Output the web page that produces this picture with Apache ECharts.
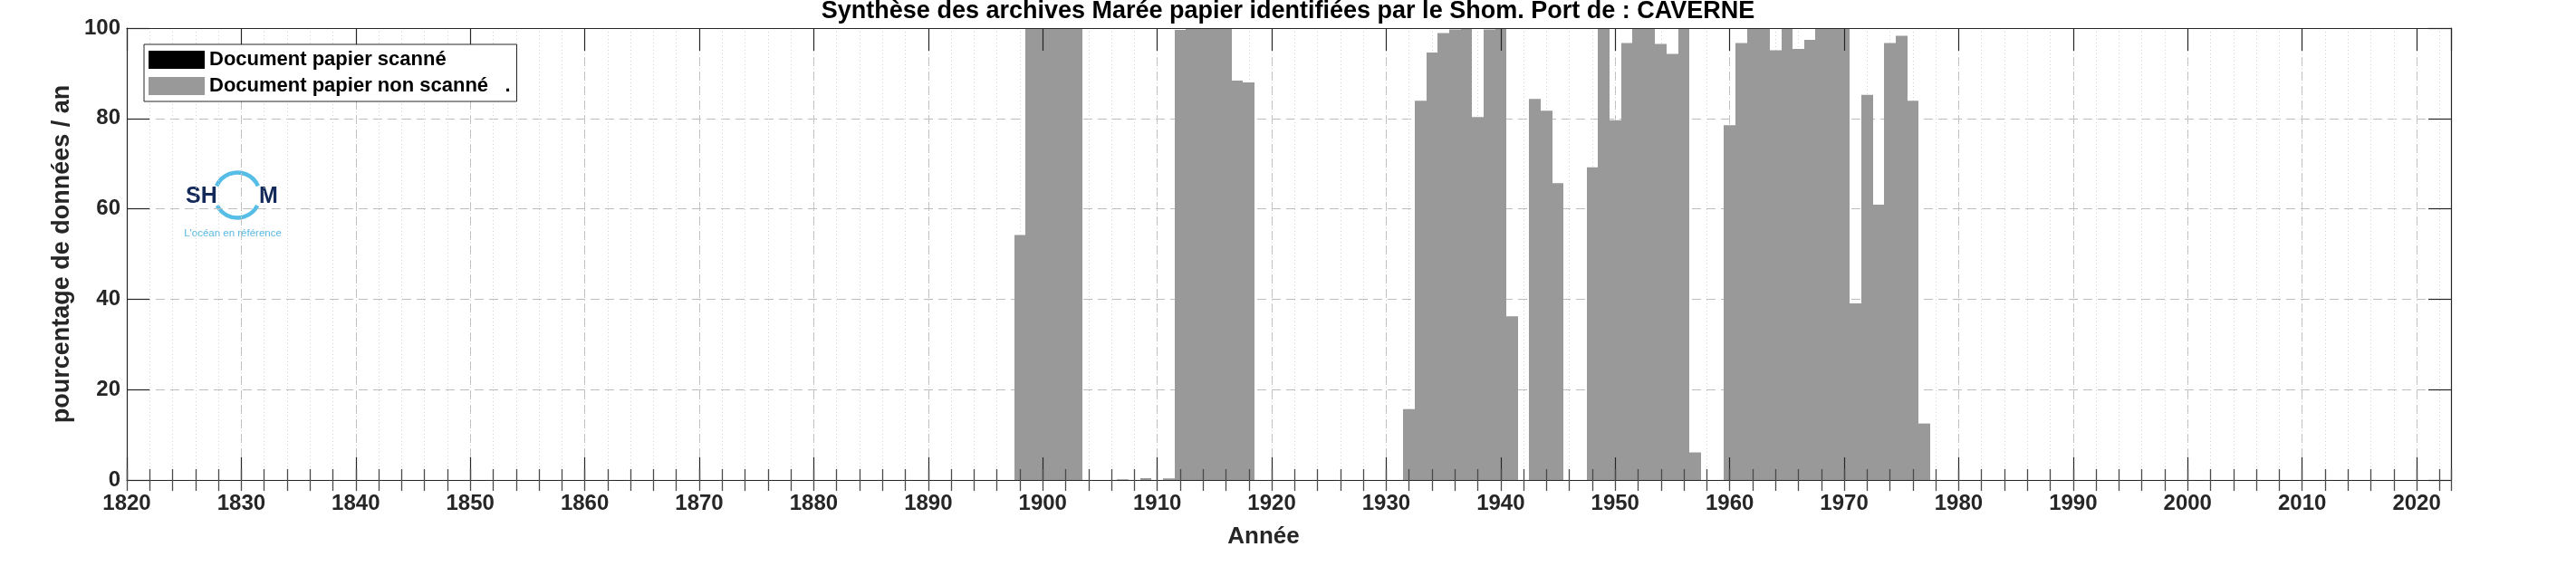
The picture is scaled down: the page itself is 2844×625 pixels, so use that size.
<!DOCTYPE html>
<html>
<head>
<meta charset="utf-8">
<script src="https://cdn.jsdelivr.net/npm/echarts@6/dist/echarts.min.js"></script>
<style>html,body{margin:0;padding:0;background:#fff}#c{width:2844px;height:625px}</style>
</head>
<body>
<div id="c"></div>
<script>
// ---- data ----
const titleText = 'Synthèse des archives Marée papier identifiées par le Shom. Port de : CAVERNE';
const xAxisName = 'Année';
const yAxisName = 'pourcentage de données / an';
const seriesNames = ['Document papier scanné', 'Document papier non scanné   .'];
const xMin = 1820, xMax = 2023, xMajor = 10, xMinor = 2;
const yMin = 0, yMax = 100, yMajor = 20;
const years = [
  1898,1899,1900,1901,1902,1903,1904,1905,1906,1907,
  1908,1909,1910,1911,1912,1913,1914,1915,1916,1917,
  1918,1919,1920,1921,1922,1923,1924,1925,1926,1927,
  1928,1929,1930,1931,1932,1933,1934,1935,1936,1937,
  1938,1939,1940,1941,1942,1943,1944,1945,1946,1947,
  1948,1949,1950,1951,1952,1953,1954,1955,1956,1957,
  1958,1959,1960,1961,1962,1963,1964,1965,1966,1967,
  1968,1969,1970,1971,1972,1973,1974,1975,1976,1977
];
const nonScanned = [
  54.2,100,100,100,100,100,0,0,0,0.15,
  0,0.4,0,0.35,99.6,100,100,100,100,88.4,
  88.0,0,0,0,0,0,0,0,0,0,
  0,0,0,0,15.7,83.9,94.6,98.9,99.7,100,
  80.3,99.7,100,36.2,0,84.3,81.7,65.7,0,0,
  69.2,100,79.6,96.7,100,100,96.5,94.3,100,6.1,
  0,0,78.5,96.7,100,100,95.1,100,95.4,97.4,
  100,100,100,39.1,85.2,60.9,96.7,98.3,83.9,12.5
];
const scanned = [
  0,0,0,0,0,0,0,0,0,0, 0,0,0,0,0,0,0,0,0,0,
  0,0,0,0,0,0,0,0,0,0, 0,0,0,0,0,0,0,0,0,0,
  0,0,0,0,0,0,0,0,0,0, 0,0,0,0,0,0,0,0,0,0,
  0,0,0,0,0,0,0,0,0,0, 0,0,0,0,0,0,0,0,0,0
];

// ---- chart ----
const FF = '"Liberation Sans", Arial, Helvetica, sans-serif';
const AX = '#262626';
const chart = echarts.init(document.getElementById('c'), null, {renderer: 'canvas'});

function xAx(opts) {
  return Object.assign({
    type: 'value', min: xMin, max: xMax, interval: xMajor,
    axisLine: {show: false}, axisTick: {show: false}, axisLabel: {show: false},
    splitLine: {show: false}, z: 10
  }, opts);
}
function yAx(opts) {
  return Object.assign({
    type: 'value', min: yMin, max: yMax, interval: yMajor,
    axisLine: {show: false}, axisTick: {show: false}, axisLabel: {show: false},
    splitLine: {show: false}, z: 10
  }, opts);
}

// year-wide bar from base to top, drawn through the axes' scales
function barItem(params, api) {
  const year = api.value(0), base = api.value(1), top = api.value(2);
  if (!(top > base)) return null;
  const p0 = api.coord([year - 0.5, base]);
  const p1 = api.coord([year + 0.5, top]);
  const x0 = Math.round(p0[0]), x1 = Math.round(p1[0]);
  return {
    type: 'rect',
    shape: {x: x0, y: p1[1], width: x1 - x0, height: p0[1] - p1[1]},
    style: {fill: api.visual('color')}
  };
}

const option = {
  animation: false,
  backgroundColor: '#fff',
  title: {
    text: titleText, left: 'center', top: -1, padding: 0,
    textStyle: {fontFamily: FF, fontSize: 27, fontWeight: 'bold', color: '#000'}
  },
  grid: {left: 140, right: 138, top: 31, bottom: 95},
  legend: {
    orient: 'vertical', left: 159, top: 49, padding: [6, 7, 6, 5],
    itemGap: 7, itemWidth: 62, itemHeight: 20, icon: 'rect',
    borderColor: AX, borderWidth: 1, backgroundColor: '#fff',
    selectedMode: false, z: 20,
    textStyle: {fontFamily: FF, fontSize: 22, fontWeight: 'bold', color: '#000'},
    data: seriesNames
  },
  xAxis: [
    xAx({
      position: 'bottom',
      axisLine: {show: true, onZero: false, lineStyle: {color: AX, width: 1.2}},
      axisTick: {show: true, inside: true, length: 25, lineStyle: {color: AX, width: 1.2}},
      axisLabel: {show: true, margin: 14, showMaxLabel: false, fontFamily: FF, fontSize: 24, fontWeight: 'bold', color: AX,
        formatter: v => (v % xMajor === 0 ? String(v) : '')},
      name: xAxisName, nameLocation: 'middle', nameGap: 50,
      nameTextStyle: {fontFamily: FF, fontSize: 26, fontWeight: 'bold', color: AX, padding: [0, 56, 0, 0]}
    }),
    xAx({position: 'bottom', interval: xMinor,
      axisTick: {show: true, inside: true, length: 12, lineStyle: {color: '#4a4a4a', width: 1.3}}}),
    xAx({position: 'top',
      axisLine: {show: true, onZero: false, lineStyle: {color: AX, width: 1.2}},
      axisTick: {show: true, inside: true, length: 25, lineStyle: {color: AX, width: 1.2}}}),
    xAx({position: 'top', interval: xMinor,
      axisTick: {show: true, inside: true, length: 12, lineStyle: {color: '#4a4a4a', width: 1.3}}}),
    xAx({position: 'bottom', z: 0,
      splitLine: {show: true, lineStyle: {color: '#bdbdbd', width: 1, type: [10, 6]}}}),
    xAx({position: 'bottom', interval: xMinor, z: 0,
      splitLine: {show: true, lineStyle: {color: '#d2d2d2', width: 1, type: [1, 3]}}})
  ],
  yAxis: [
    yAx({
      position: 'left',
      axisLine: {show: true, onZero: false, lineStyle: {color: AX, width: 1.2}},
      axisTick: {show: true, inside: true, length: 25, lineStyle: {color: AX, width: 1.2}},
      axisLabel: {show: true, margin: 7, fontFamily: FF, fontSize: 24, fontWeight: 'bold', color: AX},
      name: yAxisName, nameLocation: 'middle', nameGap: 54,
      nameTextStyle: {fontFamily: FF, fontSize: 27, fontWeight: 'bold', color: AX}
    }),
    yAx({
      position: 'right',
      axisLine: {show: true, onZero: false, lineStyle: {color: AX, width: 1.2}},
      axisTick: {show: true, inside: true, length: 25, lineStyle: {color: AX, width: 1.2}}
    }),
    yAx({position: 'left', z: 0,
      splitLine: {show: true, lineStyle: {color: '#bdbdbd', width: 1, type: [10, 6]}}})
  ],
  series: [
    {
      name: seriesNames[0], type: 'custom', renderItem: barItem,
      xAxisIndex: 0, yAxisIndex: 0, z: 2,
      itemStyle: {color: '#000000'},
      encode: {x: 0, y: 2},
      data: years.map((y, i) => [y, 0, scanned[i]])
    },
    {
      name: seriesNames[1], type: 'custom', renderItem: barItem,
      xAxisIndex: 0, yAxisIndex: 0, z: 2,
      itemStyle: {color: '#999999'},
      encode: {x: 0, y: 2},
      data: years.map((y, i) => [y, scanned[i], scanned[i] + nonScanned[i]])
    }
  ],
  graphic: [
    {
      type: 'group', left: 201, top: 188, z: 30,
      children: [
        {type: 'rect', shape: {x: 0, y: 0, width: 110, height: 86}, style: {fill: '#fff'}},
        {type: 'text', x: 4, y: 29, style: {text: 'SH', fontFamily: FF, fontSize: 25, fontWeight: 'bold', fill: '#13295a', verticalAlign: 'middle'}},
        {type: 'text', x: 85, y: 29, style: {text: 'M', fontFamily: FF, fontSize: 25, fontWeight: 'bold', fill: '#13295a', verticalAlign: 'middle'}},
        {type: 'arc', shape: {cx: 61, cy: 27.5, r: 25, startAngle: Math.PI + 0.42, endAngle: 2 * Math.PI - 0.42, clockwise: true},
          style: {stroke: '#55bde6', lineWidth: 4.5, fill: null}},
        {type: 'arc', shape: {cx: 61, cy: 27.5, r: 25, startAngle: 0.48, endAngle: Math.PI - 0.48, clockwise: true},
          style: {stroke: '#55bde6', lineWidth: 4.5, fill: null}},
        {type: 'text', x: 56, y: 70, style: {text: "L'océan en référence", fontFamily: FF, fontSize: 11.5, fill: '#5ab8e0', align: 'center', verticalAlign: 'middle'}}
      ]
    }
  ]
};
chart.setOption(option);
</script>
</body>
</html>
